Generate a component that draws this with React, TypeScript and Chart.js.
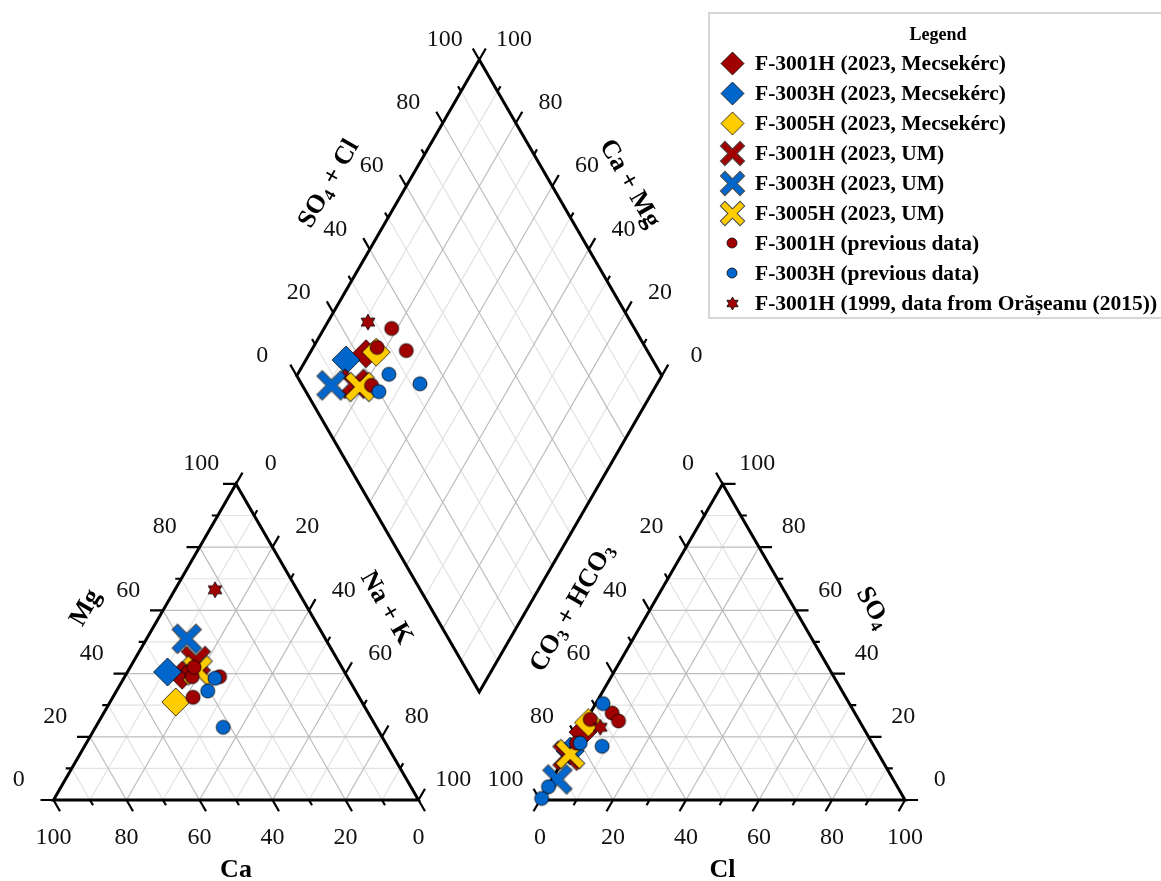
import React, { useEffect, useRef } from 'react';
import { Chart, registerables } from 'chart.js';

Chart.register(...registerables);

// ---------------- DATA ----------------
// each row: [Ca, Mg, Na+K, Cl, SO4, CO3+HCO3]  (meq %)
const seriesNames = [
  'F-3001H (2023, Mecsekérc)',
  'F-3003H (2023, Mecsekérc)',
  'F-3005H (2023, Mecsekérc)',
  'F-3001H (2023, UM)',
  'F-3003H (2023, UM)',
  'F-3005H (2023, UM)',
  'F-3001H (previous data)',
  'F-3003H (previous data)',
  'F-3001H (1999, data from Orășeanu (2015))',
];
const seriesColors = ['#A00000', '#0066CC', '#FFCC00', '#A00000', '#0066CC', '#FFCC00', '#A00000', '#0066CC', '#A00000'];
const seriesMarkers = ['diamond', 'diamond', 'diamond', 'x', 'x', 'x', 'circle', 'circle', 'star'];

const f3001Mecsekerc = [[45, 39.5, 15.5, 1, 21.5, 77.5]];
const f3003Mecsekerc = [[48.5, 40.5, 11, 0.5, 15.5, 84]];
const f3005Mecsekerc = [[51, 31, 18, 1, 24.5, 74.5]];
const f3001UM = [[39, 44, 17, 0.5, 14, 85.5]];
const f3003UM = [[38, 51, 11, 1.5, 6.5, 92]];
const f3005UM = [[40, 41, 19, 1, 14.5, 84.5]];
const f3001Previous = [
  [42.5, 39, 18.5, 6, 27.5, 66.5],
  [35, 39, 26, 9, 25, 66],
  [45.5, 32.5, 22, 1, 18, 81],
  [40.5, 42, 17.5, 1, 25.5, 73.5],
];
const f3003Previous = [
  [36.5, 38.5, 25, 8.5, 17, 74.5],
  [42, 23, 35, 2, 30.5, 67.5],
  [40.5, 34.5, 25, 2, 18, 80],
  [null, null, null, 0.2, 4.2, 95.6],
  [null, null, null, 0.2, 0.5, 99.3],
];
const f3001Oraseanu1999 = [[22.5, 66.5, 11, 5, 23, 72]];

const seriesRows: any[][] = [
  f3001Mecsekerc, f3003Mecsekerc, f3005Mecsekerc,
  f3001UM, f3003UM, f3005UM,
  f3001Previous, f3003Previous, f3001Oraseanu1999,
];

const tickLabelValues = [0, 20, 40, 60, 80, 100];
const tickValues = [0, 10, 20, 30, 40, 50, 60, 70, 80, 90, 100];
const gridValues = [10, 20, 30, 40, 50, 60, 70, 80, 90];

// ---------------- LAYOUT ----------------
const CANVAS_W = 1161;
const CANVAS_H = 881;
const PX = 3.65; // pixels per diagram unit (triangle side = 100)
const ORIGIN_X = 53.5;
const ORIGIN_Y = 800;
const GAP = 33.3;
const DIAMOND_BASE_Y = 29.6;
const H = Math.sqrt(3) / 2;
const ANION_X0 = 100 + GAP;

function cation(ca: number, mg: number, nak: number) {
  const t = ca + mg + nak;
  const m = (mg * 100) / t;
  const n = (nak * 100) / t;
  return { x: n + m / 2, y: m * H };
}
function anion(cl: number, so4: number, hco3: number) {
  const t = cl + so4 + hco3;
  const c = (cl * 100) / t;
  const s = (so4 * 100) / t;
  return { x: ANION_X0 + c + s / 2, y: s * H };
}
function diamond(a: number, c: number) {
  return { x: 100 + GAP / 2 + (a - c) / 2, y: DIAMOND_BASE_Y + (a + c) * H };
}

type Seg = { t: string; sub?: boolean };
const axisDefs: any[] = [
  { at: (k: number) => cation(100 - k, k, 0), tick: [-1, 0], normal: [-H, 0.5], rot: -60, title: [{ t: 'Mg' }] },
  { at: (k: number) => cation(k, 0, 100 - k), tick: [0.5, -H], normal: [0, -1], rot: 0, title: [{ t: 'Ca' }] },
  { at: (k: number) => cation(0, 100 - k, k), tick: [0.5, H], normal: [H, 0.5], rot: 60, title: [{ t: 'Na + K' }] },
  { at: (k: number) => anion(0, 100 - k, k), tick: [-0.5, H], normal: [-H, 0.5], rot: -60, title: [{ t: 'CO' }, { t: '3', sub: true }, { t: ' + HCO' }, { t: '3', sub: true }] },
  { at: (k: number) => anion(k, 0, 100 - k), tick: [-0.5, -H], normal: [0, -1], rot: 0, title: [{ t: 'Cl' }] },
  { at: (k: number) => anion(100 - k, k, 0), tick: [1, 0], normal: [H, 0.5], rot: 60, title: [{ t: 'SO' }, { t: '4', sub: true }] },
  { at: (k: number) => diamond(k, 100), tick: [-0.5, H], normal: [-H, 0.5], rot: -60, title: [{ t: 'SO' }, { t: '4', sub: true }, { t: ' + Cl' }] },
  { at: (k: number) => diamond(100, k), tick: [0.5, H], normal: [H, 0.5], rot: 60, title: [{ t: 'Ca + Mg' }] },
];

function gridSegments(major: boolean) {
  const segs: any[] = [];
  for (const k of gridValues) {
    if ((k % 20 === 0) !== major) continue;
    segs.push([cation(100 - k, k, 0), cation(0, k, 100 - k)]);
    segs.push([cation(100 - k, 0, k), cation(0, 100 - k, k)]);
    segs.push([cation(k, 100 - k, 0), cation(k, 0, 100 - k)]);
    segs.push([anion(0, k, 100 - k), anion(100 - k, k, 0)]);
    segs.push([anion(k, 0, 100 - k), anion(k, 100 - k, 0)]);
    segs.push([anion(0, 100 - k, k), anion(100 - k, 0, k)]);
    segs.push([diamond(k, 0), diamond(k, 100)]);
    segs.push([diamond(0, k), diamond(100, k)]);
  }
  return segs;
}
function tickSegments() {
  const segs: any[] = [];
  for (const ax of axisDefs) {
    for (const k of tickValues) {
      const p = ax.at(k);
      const len = (k % 20 === 0 ? 13 : 6) / PX;
      segs.push([p, { x: p.x + ax.tick[0] * len, y: p.y + ax.tick[1] * len }]);
    }
  }
  return segs;
}
function segData(segs: any[]) {
  const d: any[] = [];
  for (const [p, q] of segs) d.push(p, q, { x: null, y: null });
  return d;
}
function frameData() {
  const A = cation(100, 0, 0), B = cation(0, 0, 100), C = cation(0, 100, 0);
  const A2 = anion(0, 0, 100), B2 = anion(100, 0, 0), C2 = anion(0, 100, 0);
  const d0 = diamond(0, 0), d1 = diamond(100, 0), d2 = diamond(100, 100), d3 = diamond(0, 100);
  const br = { x: null, y: null };
  return [A, B, C, A, B, br, A2, B2, C2, A2, B2, br, d0, d1, d2, d3, d0, d1];
}
function samplePoints(rows: any[]) {
  const pts: any[] = [];
  for (const r of rows) {
    const [ca, mg, nak, cl, so4, hco3] = r;
    const hasCat = ca !== null && ca !== undefined;
    if (hasCat) pts.push(cation(ca, mg, nak));
    pts.push(anion(cl, so4, hco3));
    if (hasCat) {
      const tc = ca + mg + nak;
      const ta = cl + so4 + hco3;
      pts.push(diamond(((cl + so4) * 100) / ta, ((ca + mg) * 100) / tc));
    }
  }
  return pts;
}

const PLOT_SIZE: any = { diamond: 28, x: 28, circle: 14, star: 16 };
const LEGEND_SIZE: any = { diamond: 23, x: 23, circle: 10, star: 13 };

function makeMarker(kind: string, color: string, size: number): HTMLCanvasElement {
  const pad = 4;
  const dim = Math.ceil(size + pad * 2);
  const c = document.createElement('canvas');
  c.width = dim;
  c.height = dim;
  const g = c.getContext('2d') as CanvasRenderingContext2D;
  const m = dim / 2;
  const h = size / 2;
  g.fillStyle = color;
  g.strokeStyle = 'rgba(0,0,0,0.75)';
  g.lineWidth = 1;
  g.lineJoin = 'miter';
  if (kind === 'diamond') {
    g.beginPath();
    g.moveTo(m, m - h); g.lineTo(m + h, m); g.lineTo(m, m + h); g.lineTo(m - h, m);
    g.closePath(); g.fill(); g.stroke();
  } else if (kind === 'circle') {
    g.beginPath(); g.arc(m, m, h, 0, Math.PI * 2); g.fill(); g.stroke();
  } else if (kind === 'star') {
    g.beginPath();
    for (let i = 0; i < 12; i++) {
      const r = i % 2 === 0 ? h : h / Math.sqrt(3);
      const a = -Math.PI / 2 + (i * Math.PI) / 6;
      const px = m + r * Math.cos(a);
      const py = m + r * Math.sin(a);
      if (i === 0) g.moveTo(px, py); else g.lineTo(px, py);
    }
    g.closePath(); g.fill(); g.stroke();
  } else {
    const t = size * 0.24;
    const e = h - t * 0.354;
    g.lineCap = 'butt';
    const e2 = e + 0.7;
    g.strokeStyle = 'rgba(0,0,0,0.7)';
    g.lineWidth = t + 2;
    g.beginPath();
    g.moveTo(m - e2, m - e2); g.lineTo(m + e2, m + e2);
    g.moveTo(m + e2, m - e2); g.lineTo(m - e2, m + e2);
    g.stroke();
    g.strokeStyle = color;
    g.lineWidth = t;
    g.beginPath();
    g.moveTo(m - e, m - e); g.lineTo(m + e, m + e);
    g.moveTo(m + e, m - e); g.lineTo(m - e, m + e);
    g.stroke();
  }
  return c;
}

function drawRich(ctx: CanvasRenderingContext2D, segs: Seg[], x: number, y: number, rotDeg: number) {
  const big = 'bold 26px "Liberation Serif"';
  const small = 'bold 17px "Liberation Serif"';
  ctx.save();
  ctx.translate(x, y);
  ctx.rotate((rotDeg * Math.PI) / 180);
  let total = 0;
  const widths = segs.map((s) => {
    ctx.font = s.sub ? small : big;
    const w = ctx.measureText(s.t).width;
    total += w;
    return w;
  });
  let cx = -total / 2;
  ctx.textAlign = 'left';
  ctx.textBaseline = 'middle';
  ctx.fillStyle = '#000';
  segs.forEach((s, i) => {
    ctx.font = s.sub ? small : big;
    ctx.fillText(s.t, cx, s.sub ? 7 : 0);
    cx += widths[i];
  });
  ctx.restore();
}

export default function App() {
  const ref = useRef<HTMLCanvasElement>(null);

  useEffect(() => {
    const canvas = ref.current;
    if (!canvas) return;

    const plotMarkers = seriesNames.map((_, i) => makeMarker(seriesMarkers[i], seriesColors[i], PLOT_SIZE[seriesMarkers[i]]));
    const legendMarkers = seriesNames.map((_, i) => makeMarker(seriesMarkers[i], seriesColors[i], LEGEND_SIZE[seriesMarkers[i]]));

    const lineDs = (data: any[], color: string, width: number, order: number) => ({
      label: '',
      data,
      showLine: true,
      spanGaps: false,
      borderColor: color,
      borderWidth: width,
      pointRadius: 0,
      pointHoverRadius: 0,
      fill: false,
      order,
    });

    const datasets: any[] = [
      lineDs(segData(gridSegments(false)), '#e2e2e2', 1.2, 1000),
      lineDs(segData(gridSegments(true)), '#bdbdbd', 1.2, 999),
      lineDs(segData(tickSegments()), '#000', 2.2, 998),
      lineDs(frameData(), '#000', 3, 997),
      ...seriesNames.map((name, i) => ({
        label: name,
        data: samplePoints(seriesRows[i]),
        pointStyle: plotMarkers[i],
        pointRadius: 10,
        pointHoverRadius: 10,
        showLine: false,
        clip: false,
        order: 50 - i,
      })),
    ];

    const labelsPlugin = {
      id: 'piperLabels',
      afterDatasetsDraw(chart: any) {
        const { ctx } = chart;
        const xs = chart.scales.x;
        const ys = chart.scales.y;
        const toPx = (p: any) => ({ x: xs.getPixelForValue(p.x), y: ys.getPixelForValue(p.y) });
        ctx.save();
        ctx.fillStyle = '#111';
        ctx.font = '24px "Liberation Serif"';
        ctx.textAlign = 'center';
        ctx.textBaseline = 'middle';
        for (const ax of axisDefs) {
          const bottom = ax.normal[1] === -1;
          const off = bottom ? 38 : 40;
          for (const k of tickLabelValues) {
            const p = toPx(ax.at(k));
            ctx.fillText(String(k), p.x + ax.normal[0] * off, p.y - ax.normal[1] * off);
          }
        }
        ctx.restore();
        for (const ax of axisDefs) {
          const bottom = ax.normal[1] === -1;
          const toff = bottom ? 70 : 68;
          const mid = toPx(ax.at(50));
          drawRich(ctx, ax.title, mid.x + ax.normal[0] * toff, mid.y - ax.normal[1] * toff, ax.rot);
        }
      },
    };

    const legendPlugin = {
      id: 'piperLegend',
      afterDraw(chart: any) {
        const { ctx } = chart;
        ctx.save();
        ctx.strokeStyle = '#d6d6d6';
        ctx.lineWidth = 2;
        ctx.strokeRect(709, 13, 460, 305);
        ctx.fillStyle = '#000';
        ctx.font = 'bold 18px "Liberation Serif"';
        ctx.textAlign = 'center';
        ctx.textBaseline = 'middle';
        ctx.fillText('Legend', 938, 35);
        ctx.font = 'bold 21.5px "Liberation Serif"';
        ctx.textAlign = 'left';
        seriesNames.forEach((name, i) => {
          const y = 63 + 30 * i;
          const img = legendMarkers[i];
          ctx.drawImage(img, Math.round(732 - img.width / 2), Math.round(y - img.height / 2));
          ctx.fillText(name, 755, y + 1);
        });
        ctx.restore();
      },
    };

    const chart = new Chart(canvas, {
      type: 'scatter',
      data: { datasets },
      options: {
        animation: false,
        responsive: false,
        events: [],
        layout: { padding: 0, autoPadding: false },
        plugins: { legend: { display: false }, tooltip: { enabled: false } },
        scales: {
          x: { type: 'linear', display: false, bounds: 'data', min: -ORIGIN_X / PX, max: (CANVAS_W - ORIGIN_X) / PX },
          y: { type: 'linear', display: false, bounds: 'data', min: -(CANVAS_H - ORIGIN_Y) / PX, max: ORIGIN_Y / PX },
        },
      } as any,
      plugins: [labelsPlugin, legendPlugin],
    });

    return () => chart.destroy();
  }, []);

  return (
    <div style={{ position: 'absolute', left: 0, top: 0, width: CANVAS_W, height: CANVAS_H, background: '#fff' }}>
      <canvas ref={ref} width={CANVAS_W} height={CANVAS_H} style={{ display: 'block' }} />
    </div>
  );
}
